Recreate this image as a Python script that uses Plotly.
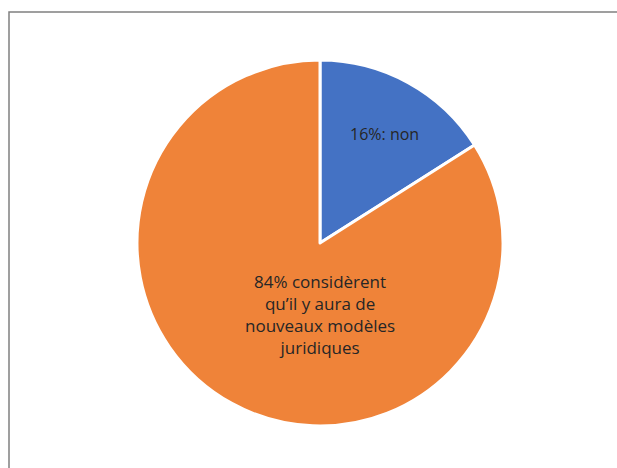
import plotly.graph_objects as go

labels = ["non", "oui"]
values = [16, 84]
colors = ["#4472C4", "#EF8339"]
texts = ["16%: non", "84% considèrent<br>qu’il y aura de<br>nouveaux modèles<br>juridiques"]

W, H = 617, 468
cx, cy, r = 320, 243, 183

fig = go.Figure(go.Pie(
    labels=labels, values=values, sort=False, direction="clockwise", rotation=0,
    marker=dict(colors=colors, line=dict(color="white", width=3)),
    textinfo="none", hoverinfo="label+percent", showlegend=False,
    domain=dict(x=[(cx - r) / W, (cx + r) / W], y=[1 - (cy + r) / H, 1 - (cy - r) / H]),
))

font = dict(size=17, color="#262626", family="Open Sans")
fig.add_annotation(x=384 / W, y=1 - 134 / H, xref="paper", yref="paper", text=texts[0],
                   xanchor="center", yanchor="middle", showarrow=False,
                   font=dict(size=16, color="#262626", family="Open Sans"))
fig.add_annotation(x=320 / W, y=1 - 314 / H, xref="paper", yref="paper", text=texts[1],
                   xanchor="center", yanchor="middle", showarrow=False, align="center",
                   font=font)

fig.add_shape(type="rect", xref="paper", yref="paper",
              x0=9 / W, x1=1.2, y0=-0.2, y1=1 - 12 / H,
              line=dict(color="#808080", width=1.5), fillcolor="rgba(0,0,0,0)")

fig.update_layout(width=W, height=H, margin=dict(l=0, r=0, t=0, b=0),
                  paper_bgcolor="white", plot_bgcolor="white")
fig.write_html("out.html", config=dict(displayModeBar=False),
               post_script="document.body.style.margin='0';document.body.style.overflow='hidden';")
